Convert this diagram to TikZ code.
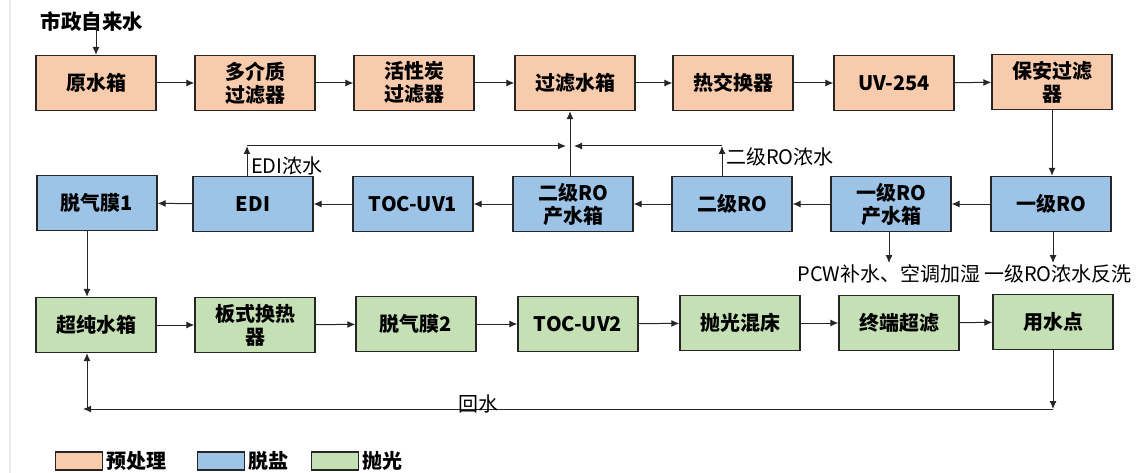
\documentclass[tikz,border=0pt]{standalone}
\usepackage{fontspec}
\setmainfont{Noto Sans CJK SC}
\usetikzlibrary{arrows.meta}
\definecolor{preC}{HTML}{F8CBAD}
\definecolor{desalC}{HTML}{9DC3E6}
\definecolor{polishC}{HTML}{C5E0B4}

\begin{document}
\begin{tikzpicture}[x=1pt,y=-1pt,>={Latex[length=8pt,width=7pt]},
	box/.style={draw=black!85,line width=1.4pt,minimum width=120pt,minimum height=55pt,inner sep=0pt,align=center,font=\fontsize{20}{23}\selectfont\bfseries},
	pre/.style={box,fill=preC},
	desal/.style={box,fill=desalC},
	polish/.style={box,fill=polishC},
	flow/.style={->,line width=1pt,black!85},
	lab/.style={inner sep=0pt,font=\fontsize{20}{22}\selectfont},
	legbox/.style={draw=black!85,line width=1.4pt,minimum width=47pt,minimum height=18pt,inner sep=0pt}]
			%%%	Frame
			\useasboundingbox (0,0) rectangle (1139,473);
			\draw[black!8,line width=2pt] (10,0) -- (10,473);
			%%%	Pretreatment
			\node[pre] (raw)   at (96,83)   {原水箱};
			\node[pre] (mmf)   at (255,83)  {多介质\\过滤器};
			\node[pre] (acf)   at (414,83)  {活性炭\\过滤器};
			\node[pre] (ftank) at (575,83)  {过滤水箱};
			\node[pre] (hx)    at (733,83)  {热交换器};
			\node[pre] (uv)    at (894,83)  {UV-254};
			\node[pre] (cart)  at (1052,82) {保安过滤\\器};
			%%%	Desalination
			\node[desal] (deg1)  at (97,203)   {脱气膜1};
			\node[desal] (edi)   at (253,204)  {EDI};
			\node[desal] (toc1)  at (413,204)  {TOC-UV1};
			\node[desal] (tank2) at (573,204)  {二级RO\\产水箱};
			\node[desal] (ro2)   at (732,204)  {二级RO};
			\node[desal] (tank1) at (891,204)  {一级RO\\产水箱};
			\node[desal] (ro1)   at (1051,204) {一级RO};
			%%%	Polishing
			\node[polish] (upw)  at (96,325)   {超纯水箱};
			\node[polish] (phx)  at (255,325)  {板式换热\\器};
			\node[polish] (deg2) at (416,324)  {脱气膜2};
			\node[polish] (toc2) at (578,324)  {TOC-UV2};
			\node[polish] (mb)   at (740,323)  {抛光混床};
			\node[polish] (uf)   at (899,323)  {终端超滤};
			\node[polish] (pou)  at (1053,322) {用水点};
			%%%	Source
			\node[lab,font=\fontsize{20.5}{22}\selectfont\bfseries] (city) at (92,22) {市政自来水};
			\draw[flow] ([yshift=-3pt]city.center -| raw.north) -- (raw.north);
			%%%	Row 1
			\draw[flow] (raw) -- (mmf);
			\draw[flow] (mmf) -- (acf);
			\draw[flow] (acf) -- (ftank);
			\draw[flow] (ftank) -- (hx);
			\draw[flow] (hx) -- (uv);
			\draw[flow] (uv) -- (cart);
			\draw[flow] (cart.south) -- (cart.south |- ro1.north);
			%%%	Row 2
			\draw[flow] (ro1) -- (tank1);
			\draw[flow] (tank1) -- (ro2);
			\draw[flow] (ro2) -- (tank2);
			\draw[flow] (tank2) -- (toc1);
			\draw[flow] (toc1) -- (edi);
			\draw[flow] (edi) -- (deg1);
			\draw[flow] ([xshift=-10pt]deg1.south) -- ([xshift=-10pt]deg1.south |- upw.north);
			%%%	Concentrate back to filtered water tank
			\coordinate (jn) at (570,146);
			\draw[flow] (tank2.north -| jn) -- (ftank.south -| jn);
			\draw[flow] ([xshift=-6pt]edi.north) -- ([xshift=-6pt]edi.north |- jn);
			\draw[flow] ([xshift=-6pt]edi.north |- jn) -- ([xshift=-4pt]jn);
			\draw[flow] ([xshift=-10pt]ro2.north) -- ([xshift=-10pt]ro2.north |- jn);
			\draw[flow] ([xshift=-10pt]ro2.north |- jn) -- ([xshift=4pt]jn);
			\node[lab,anchor=west] (ediC) at (251,166) {EDI浓水};
			\node[lab,anchor=west] (ro2C) at (726,157) {二级RO浓水};
			%%%	Outlets
			\coordinate (outY) at (0,263);
			\draw[flow] ([xshift=-2pt]tank1.south) -- ([xshift=-2pt]tank1.south |- outY);
			\draw[flow] ([xshift=2pt]ro1.south) -- ([xshift=2pt]ro1.south |- outY);
			\node[lab] (pcw) at (889,274) {PCW补水、空调加湿};
			\node[lab] (ro1C) at (1058,274) {一级RO浓水反洗};
			%%%	Row 3
			\draw[flow] (upw) -- (phx);
			\draw[flow] (phx) -- (deg2);
			\draw[flow] (deg2) -- (toc2);
			\draw[flow] (toc2) -- (mb);
			\draw[flow] (mb) -- (uf);
			\draw[flow] (uf) -- (pou);
			%%%	Return loop
			\coordinate (retR) at (1053,409);
			\coordinate (retL) at (83,409);
			\draw[flow] (pou.south) -- (pou.south |- retR);
			\draw[flow] (pou.south |- retR) -- (retL);
			\draw[flow] ([xshift=-9pt]upw.south |- retR) -- ([xshift=-9pt]upw.south);
			\node[lab] (ret) at (478,404) {回水};
			%%%	Legend
			\node[legbox,fill=preC] (lg1) at (79,461) {};
			\node[lab,anchor=west,font=\fontsize{20}{22}\selectfont\bfseries] (lt1) at ([xshift=3pt]lg1.east) {预处理};
			\node[legbox,fill=desalC] (lg2) at (221,461) {};
			\node[lab,anchor=west,font=\fontsize{20}{22}\selectfont\bfseries] (lt2) at ([xshift=3pt]lg2.east) {脱盐};
			\node[legbox,fill=polishC] (lg3) at (335,461) {};
			\node[lab,anchor=west,font=\fontsize{20}{22}\selectfont\bfseries] (lt3) at ([xshift=3pt]lg3.east) {抛光};
		\end{tikzpicture}
\end{document}
